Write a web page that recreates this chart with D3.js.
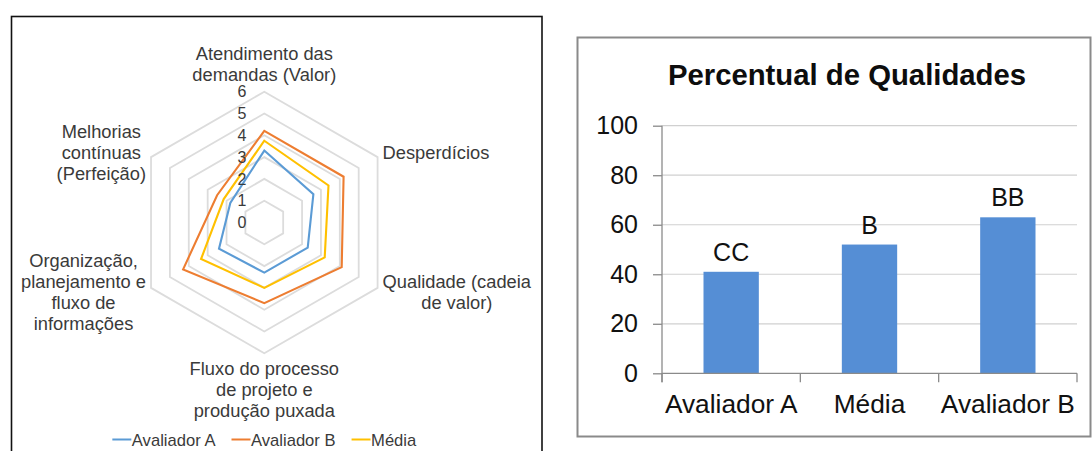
<!DOCTYPE html>
<html>
<head>
<meta charset="utf-8">
<script src="https://cdn.jsdelivr.net/npm/d3@7"></script>
<style>
  html, body { margin: 0; padding: 0; background: #ffffff; }
  svg { display: block; font-family: Arial, "Liberation Sans", sans-serif; }
</style>
</head>
<body>
<svg id="chart" width="1092" height="451"></svg>
<script>
// ---- Radar chart data ----
const radarAxes = [
  ["Atendimento das", "demandas (Valor)"],
  ["Desperdícios"],
  ["Qualidade (cadeia", "de valor)"],
  ["Fluxo do processo", "de projeto e", "produção puxada"],
  ["Organização,", "planejamento e", "fluxo de", "informações"],
  ["Melhorias", "contínuas", "(Perfeição)"]
];
const seriesNames = ["Avaliador A", "Avaliador B", "Média"];
const avaliadorA = [3.3, 2.6, 2.3, 2.3, 2.4, 1.8];
const avaliadorB = [4.2, 4.2, 4.1, 3.7, 4.3, 2.5];
const media      = [3.75, 3.4, 3.2, 3.0, 3.35, 2.15];
const radarTicks = [0, 1, 2, 3, 4, 5, 6];

// ---- Bar chart data ----
const barCategories = ["Avaliador A", "Média", "Avaliador B"];
const barValues = [41, 52, 63];
const barLabels = ["CC", "B", "BB"];
const barTicks = [0, 20, 40, 60, 80, 100];

const svg = d3.select("#chart");

// ================= Left panel: radar =================
svg.append("rect")
  .attr("x", 11.5).attr("y", 16.5).attr("width", 530.5).attr("height", 450)
  .attr("fill", "none").attr("stroke", "#111").attr("stroke-width", 1.6);

const cx = 264.3, cy = 222.5;
const r = d3.scaleLinear().domain([0, 6]).range([0, 130.8]);
const nAx = radarAxes.length;
const ang = i => i * 2 * Math.PI / nAx;   // clockwise from top
const pt = (i, v) => [cx + r(v) * Math.sin(ang(i)), cy - r(v) * Math.cos(ang(i))];

const radar = svg.append("g");

// concentric hexagon grid
const ringLine = d3.lineRadial()
  .angle((d, i) => ang(i))
  .radius(d => r(d))
  .curve(d3.curveLinearClosed);
radar.append("g").attr("transform", `translate(${cx},${cy})`)
  .selectAll("path").data(radarTicks.filter(t => t > 0)).join("path")
  .attr("d", t => ringLine(d3.range(nAx).map(() => t)))
  .attr("fill", "none").attr("stroke", "#dcdcdc").attr("stroke-width", 1.8);

// series lines
const seriesData = [avaliadorA, avaliadorB, media];
const seriesColors = ["#5b9bd5", "#ed7d31", "#ffc000"];
const drawOrder = [2, 0, 1];
radar.append("g").attr("transform", `translate(${cx},${cy})`)
  .selectAll("path").data(drawOrder).join("path")
  .attr("d", k => ringLine(seriesData[k]))
  .attr("fill", "none")
  .attr("stroke", k => seriesColors[k])
  .attr("stroke-width", 2.1)
  .attr("stroke-linejoin", "miter");

// value labels along the top axis
radar.append("g").selectAll("text").data(radarTicks).join("text")
  .attr("x", cx - 18)
  .attr("y", t => cy - r(t))
  .attr("dy", "0.36em")
  .attr("text-anchor", "end")
  .attr("font-size", 16)
  .attr("fill", "#3a3a3a")
  .text(d => d);

// category labels around the hexagon
const lh = 21;
radarAxes.forEach((lines, i) => {
  const [vx, vy] = pt(i, 6);
  const s = Math.sin(ang(i)), c = Math.cos(ang(i));
  const g = radar.append("g");
  const texts = g.selectAll("text").data(lines).join("text")
    .attr("x", 0)
    .attr("y", (d, j) => j * lh)
    .attr("text-anchor", "middle")
    .attr("font-size", 18.3)
    .attr("fill", "#3a3a3a")
    .text(d => d);
  const w = d3.max(texts.nodes(), n => n.getComputedTextLength());
  const n = lines.length;
  let gx, gy;
  if (Math.abs(s) < 0.01) {
    gx = vx;
    gy = c > 0 ? vy - 10.7 - (n - 1) * lh : vy + 21.7;
  } else {
    gx = s > 0 ? vx + 5 + w / 2 : vx - 5 - w / 2;
    gy = vy - (n - 1) * lh / 2 + 6 - 8.5 * c;
  }
  g.attr("transform", `translate(${gx},${gy})`);
});

// legend
const legend = svg.append("g");
const legItems = legend.selectAll("g").data(seriesNames).join("g");
legItems.append("line")
  .attr("x1", 0).attr("x2", 19).attr("y1", -6).attr("y2", -6)
  .attr("stroke", (d, i) => seriesColors[i]).attr("stroke-width", 2);
const legTexts = legItems.append("text")
  .attr("x", 19.5).attr("y", 0)
  .attr("font-size", 16.6).attr("fill", "#3a3a3a")
  .text(d => d);
let lx = 0;
const legPos = [];
legTexts.nodes().forEach(nd => { legPos.push(lx); lx += 19.5 + nd.getComputedTextLength() + 16; });
const legW = lx - 16;
legItems.attr("transform", (d, i) => `translate(${legPos[i]},0)`);
legend.attr("transform", `translate(${cx - legW / 2},445.5)`);

// ================= Right panel: bar chart =================
svg.append("rect")
  .attr("x", 577.5).attr("y", 37.5).attr("width", 513).attr("height", 399)
  .attr("fill", "none").attr("stroke", "#8a8a8a").attr("stroke-width", 2);

svg.append("text")
  .attr("x", 847).attr("y", 85)
  .attr("text-anchor", "middle")
  .attr("font-size", 29.3).attr("font-weight", "bold")
  .attr("fill", "#0d0d0d")
  .text("Percentual de Qualidades");

const x = d3.scaleBand().domain(barCategories).range([662, 1077])
  .paddingInner(0.6).paddingOuter(0.3);
const y = d3.scaleLinear().domain([0, 100]).range([373.3, 125.7]);

// gridlines
svg.append("g").selectAll("line").data(barTicks.filter(t => t > 0)).join("line")
  .attr("x1", 662).attr("x2", 1077)
  .attr("y1", d => y(d)).attr("y2", d => y(d))
  .attr("stroke", "#d0d0d0").attr("stroke-width", 1.2);

// y axis
const yAxis = svg.append("g").attr("transform", "translate(662,0)")
  .call(d3.axisLeft(y).tickValues(barTicks).tickSize(9).tickPadding(15).tickFormat(d3.format("d")));
yAxis.select(".domain").remove();
yAxis.selectAll(".tick line").attr("stroke", "#8a8a8a").attr("stroke-width", 1.3);
yAxis.selectAll(".tick text").attr("font-size", 25).attr("fill", "#111")
  .attr("font-family", "Arial, 'Liberation Sans', sans-serif");
svg.append("line").attr("x1", 662).attr("x2", 662).attr("y1", y(100)).attr("y2", y(0) + 9)
  .attr("stroke", "#8a8a8a").attr("stroke-width", 1.3);

// bars
svg.append("g").selectAll("rect").data(barValues).join("rect")
  .attr("x", (d, i) => x(barCategories[i]))
  .attr("y", d => y(d))
  .attr("width", x.bandwidth())
  .attr("height", d => y(0) - y(d))
  .attr("fill", "#558ed5");

// bar labels
svg.append("g").selectAll("text").data(barValues).join("text")
  .attr("x", (d, i) => x(barCategories[i]) + x.bandwidth() / 2)
  .attr("y", d => y(d) - 11)
  .attr("text-anchor", "middle")
  .attr("font-size", 25).attr("fill", "#111")
  .text((d, i) => barLabels[i]);

// x axis
const step = x.step();
const bounds = barCategories.map(c => x(c) - step * x.paddingInner() / 2);
bounds.push(bounds[bounds.length - 1] + step);
svg.append("line").attr("x1", 662).attr("x2", 1077).attr("y1", y(0)).attr("y2", y(0))
  .attr("stroke", "#8a8a8a").attr("stroke-width", 1.3);
svg.append("g").selectAll("line").data(bounds).join("line")
  .attr("x1", d => d).attr("x2", d => d)
  .attr("y1", y(0)).attr("y2", y(0) + 9)
  .attr("stroke", "#8a8a8a").attr("stroke-width", 1.3);
svg.append("g").selectAll("text").data(barCategories).join("text")
  .attr("x", d => x(d) + x.bandwidth() / 2)
  .attr("y", 413)
  .attr("text-anchor", "middle")
  .attr("font-size", 26.3).attr("fill", "#111")
  .text(d => d);
</script>
</body>
</html>
